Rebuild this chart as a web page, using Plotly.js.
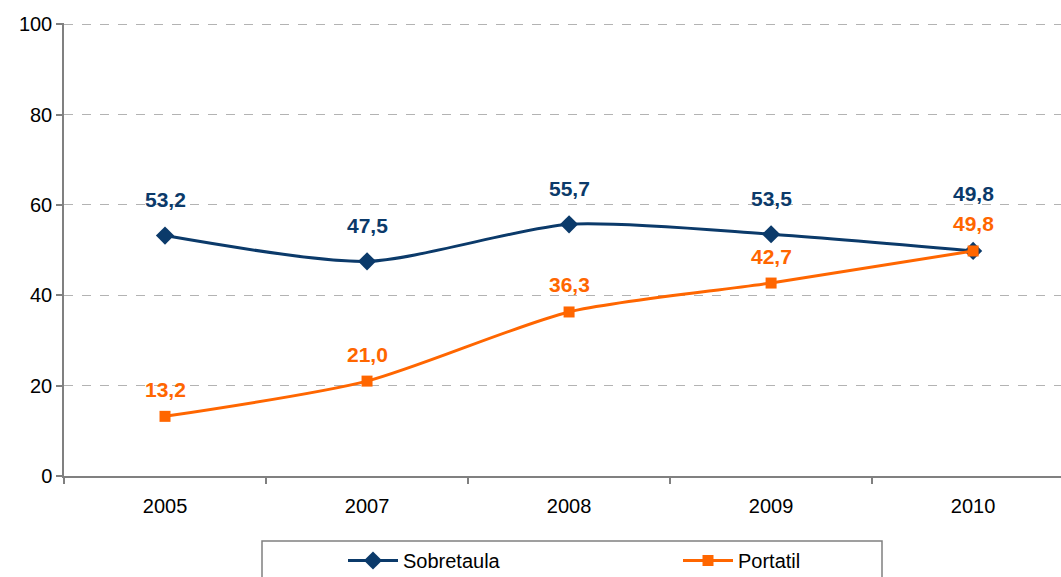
<!DOCTYPE html>
<html>
<head>
<meta charset="utf-8">
<script src="https://cdn.plot.ly/plotly-3.0.1.min.js"></script>
<style>html,body{margin:0;padding:0;background:#fff;}#chart{width:1061px;height:577px;}</style>
</head>
<body>
<div id="chart"></div>
<script>
var years = ['2005', '2007', '2008', '2009', '2010'];
var sobretaula = [53.2, 47.5, 55.7, 53.5, 49.8];
var portatil = [13.2, 21.0, 36.3, 42.7, 49.8];
var seriesNames = ['Sobretaula', 'Portatil'];

var blue = '#0B3A6A';
var orange = '#FF6600';
var FONT = 'Liberation Sans, Arial, sans-serif';
var fmt = function (v) { return v.toFixed(1).replace('.', ','); };

var traces = [
  {
    x: years, y: sobretaula, name: seriesNames[0], type: 'scatter', mode: 'lines+markers',
    line: {color: blue, width: 3, shape: 'spline', smoothing: 0.7},
    marker: {symbol: 'diamond', size: 14, color: blue},
    hoverinfo: 'skip'
  },
  {
    x: years, y: portatil, name: seriesNames[1], type: 'scatter', mode: 'lines+markers',
    line: {color: orange, width: 3, shape: 'spline', smoothing: 0.7},
    marker: {symbol: 'square', size: 11, color: orange},
    hoverinfo: 'skip'
  }
];

var annotations = [];
for (var i = 0; i < years.length; i++) {
  var close = Math.abs(sobretaula[i] - portatil[i]) < 3;
  annotations.push({
    x: i, y: sobretaula[i], xref: 'x', yref: 'y', text: '<b>' + fmt(sobretaula[i]) + '</b>',
    showarrow: false, yshift: close ? 57 : 36,
    font: {family: FONT, size: 21, color: blue}
  });
  annotations.push({
    x: i, y: portatil[i], xref: 'x', yref: 'y', text: '<b>' + fmt(portatil[i]) + '</b>',
    showarrow: false, yshift: 27,
    font: {family: FONT, size: 21, color: orange}
  });
}

var L = 64, R = 1061, T = 23, B = 476;
var pw = R - L, ph = B - T;

var layout = {
  width: 1061, height: 577,
  autosize: false,
  margin: {l: L, r: 0, t: T, b: 577 - B, pad: 0, autoexpand: false},
  paper_bgcolor: '#ffffff', plot_bgcolor: '#ffffff',
  font: {family: FONT, size: 20, color: '#000'},
  showlegend: true,
  legend: {
    orientation: 'h', x: (343 - L) / pw, xanchor: 'left', y: (B - 541) / ph, yanchor: 'top',
    entrywidth: 270, entrywidthmode: 'pixels', itemwidth: 50,
    bgcolor: 'rgba(0,0,0,0)', borderwidth: 0,
    font: {family: FONT, size: 20, color: '#000'}
  },
  xaxis: {
    type: 'category', range: [-0.5, 4.435], fixedrange: true, automargin: false,
    showline: true, linecolor: '#808080', linewidth: 1.5,
    ticks: 'outside', tickson: 'boundaries', ticklen: 6, tickcolor: '#808080', tickwidth: 1.5,
    ticklabelstandoff: 11,
    showgrid: false, zeroline: false,
    tickfont: {family: FONT, size: 20, color: '#000'}
  },
  yaxis: {
    range: [0, 100.25], tickvals: [0, 20, 40, 60, 80, 100], fixedrange: true, automargin: false,
    showline: true, linecolor: '#808080', linewidth: 1.5,
    ticks: 'outside', ticklen: 6, tickcolor: '#808080', tickwidth: 1.5,
    showgrid: true, gridcolor: '#b3b3b3', gridwidth: 1, griddash: 'dash',
    zeroline: false,
    tickfont: {family: FONT, size: 20, color: '#000'}
  },
  shapes: [{
    type: 'rect', xref: 'paper', yref: 'paper',
    x0: (262 - L) / pw, x1: (882 - L) / pw,
    y0: (B - 541) / ph, y1: (B - 600) / ph,
    line: {color: '#808080', width: 1.5}, fillcolor: 'rgba(0,0,0,0)', layer: 'below'
  }],
  annotations: annotations
};

Plotly.newPlot('chart', traces, layout, {displayModeBar: false});
</script>
</body>
</html>
